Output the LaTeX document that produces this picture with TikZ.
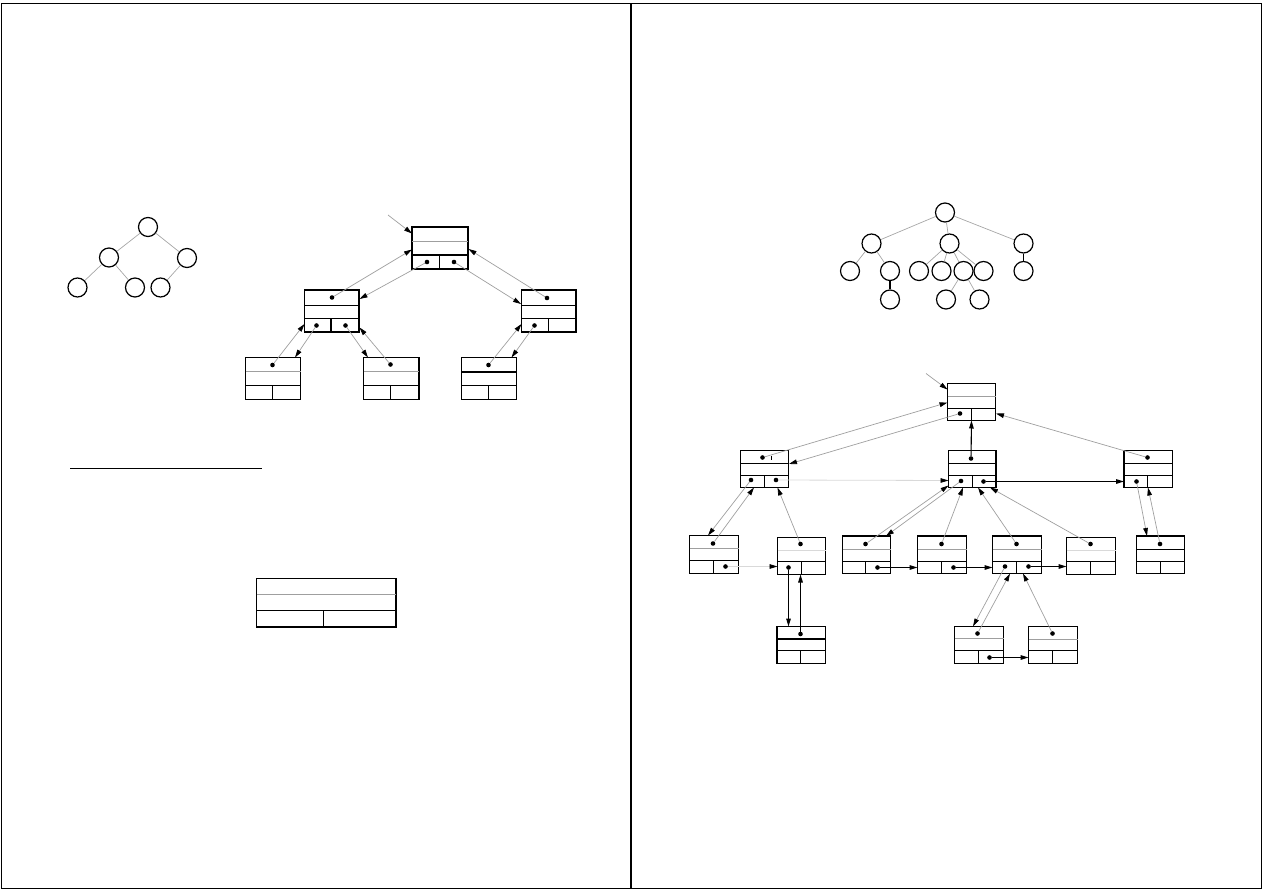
\documentclass[tikz,border=0pt]{standalone}
\usetikzlibrary{arrows.meta}
\tikzset{
  recbox/.style={draw, line width=1.15pt, inner sep=0pt, rectangle},
  inner/.style={line width=1.05pt},
  gline/.style={draw=gray!75, line width=0.7pt},
  lline/.style={draw=gray!30, line width=0.8pt},
  dot/.style={circle, fill=black, inner sep=0pt, minimum size=4.6pt},
  tnode/.style={circle, draw, line width=1.2pt, minimum size=19pt, inner sep=0pt},
  tedge/.style={draw=gray!70, line width=0.7pt},
  bedge/.style={draw=black, line width=1.2pt},
  tip/.style={-{Triangle[length=8pt,width=4.6pt,color=black]}},
  garrow/.style={tip, draw=gray!75, line width=0.7pt},
  larrow/.style={tip, draw=gray!30, line width=0.8pt},
  barrow/.style={tip, draw=black, line width=1.1pt},
}
\newcommand\mybox[9]{%
  \pgfmathsetmacro\bw{#4-#2}\pgfmathsetmacro\bh{#5-#3}%
  \node[recbox, minimum width=\bw pt, minimum height=\bh pt] (#1) at ({(#2+#4)/2},{(#3+#5)/2}) {};
  \draw[#9] (#2,#6) -- (#4,#6);
  \draw[inner] (#2,#7) -- (#4,#7);
  \draw[inner] (#8,#7) -- (#8,#5);
}
\begin{document}
\begin{tikzpicture}[x=1pt,y=-1pt]
\useasboundingbox (0,0) rectangle (1263,893);
% frame
\draw[line width=1.3pt] (1.5,3.5) rectangle (1261.5,888.5);
\draw[line width=1.3pt] (631,3.5) -- (631,888.5);

% ---------- left small binary tree
\node[tnode] (t1) at (148,227) {};
\node[tnode] (t2) at (109,257.5) {};
\node[tnode] (t3) at (187,258) {};
\node[tnode] (t4) at (77.5,287.5) {};
\node[tnode] (t5) at (135,287.5) {};
\node[tnode] (t6) at (160.5,287.5) {};
\path[tedge] (t1)--(t2) (t1)--(t3) (t2)--(t4) (t2)--(t5) (t3)--(t6);

% ---------- left linked tree
\mybox{LR}{412}{227}{468}{269}{241}{255}{439.5}{gline}
\mybox{LA}{304.5}{290}{359}{332}{305.5}{318.5}{331}{inner}
\mybox{LB}{521.5}{290}{576}{332}{305.5}{318.5}{548.5}{inner}
\mybox{LC}{245.5}{357.5}{300.5}{399.5}{371.5}{385.5}{272.5}{gline}
\mybox{LD}{363.5}{357.5}{419}{399.5}{371.5}{385.5}{390.5}{gline}
\mybox{LE}{461.5}{357.5}{516.5}{399.5}{372}{385.5}{488.5}{inner}
\node[dot] (r0a) at (427,262) {};
\node[dot] (r0b) at (454,262) {};
\node[dot] (la0) at (332,297.5) {};
\node[dot] (la1) at (316.5,325.5) {};
\node[dot] (la2) at (345.5,325.5) {};
\node[dot] (lb0) at (547,298) {};
\node[dot] (lb1) at (534.5,325.5) {};
\node[dot] (lc0) at (272.5,365) {};
\node[dot] (ld0) at (390.5,364.5) {};
\node[dot] (le0) at (488.5,365) {};
\coordinate (lin) at (388,215);
\draw[garrow] (lin) -- (412,233.5);
\draw[garrow] (r0a) -- (359.5,299);
\draw[garrow] (la0) -- (412,249.5);
\draw[garrow] (r0b) -- (521,304);
\draw[garrow] (lb0) -- (468.5,249);
\draw[garrow] (la1) -- (295,357.5);
\draw[garrow] (lc0) -- (304.5,324);
\draw[garrow] (la2) -- (368,357.5);
\draw[garrow] (ld0) -- (359.5,327.5);
\draw[garrow] (lb1) -- (511.5,357.5);
\draw[garrow] (le0) -- (521.5,324);

% ---------- left separator line and empty record
\draw[line width=1.3pt] (70,468.5) -- (261.5,468.5);
\mybox{LX}{256.5}{578.5}{396}{627}{594.5}{610.5}{323.5}{gline}

% ---------- right small general tree
\node[tnode] (s0) at (945,212.5) {};
\node[tnode] (s1) at (871.5,243.5) {};
\node[tnode] (s2) at (949.5,243.5) {};
\node[tnode] (s3) at (1023.5,243.5) {};
\node[tnode] (s4) at (850,271) {};
\node[tnode] (s5) at (890,271) {};
\node[tnode] (s6) at (919,271) {};
\node[tnode] (s7) at (941.5,271) {};
\node[tnode] (s8) at (963.5,271) {};
\node[tnode] (s9) at (983.5,271) {};
\node[tnode] (s10) at (1023.5,271) {};
\node[tnode] (s11) at (890,299.5) {};
\node[tnode] (s12) at (946,299.5) {};
\node[tnode] (s13) at (979.5,299.5) {};
\path[tedge] (s0)--(s1) (s0)--(s2) (s0)--(s3) (s1)--(s4) (s1)--(s5)
  (s2)--(s6) (s2)--(s7) (s2)--(s8) (s2)--(s9) (s8)--(s12) (s8)--(s13);
\path[bedge] (s5)--(s11) (s3)--(s10);

% ---------- right linked tree
\mybox{R}{947.5}{383.5}{995.5}{420.5}{396}{408.5}{971.5}{gline}
\mybox{A}{740.5}{450.5}{788.5}{487.5}{463.5}{475.5}{764.5}{inner}
\mybox{B}{948.5}{450.5}{996}{487.5}{463.5}{475.5}{972.5}{inner}
\mybox{C}{1124}{450.5}{1172.5}{487.5}{463.5}{475.5}{1147.5}{inner}
\mybox{D}{689.5}{535.5}{738.5}{573.5}{548.5}{560.5}{713.5}{gline}
\mybox{E}{777.5}{537.5}{825.5}{574.5}{550}{561.5}{801.5}{lline}
\mybox{F}{842.5}{536}{890.5}{573.5}{549.5}{561.5}{865.5}{gline}
\mybox{G}{917.5}{536}{966.5}{573.5}{549.5}{561.5}{941.5}{gline}
\mybox{H}{992.5}{536}{1041.5}{573.5}{549.5}{561.5}{1016.5}{gline}
\mybox{I}{1066.5}{537.5}{1115.5}{574.5}{550}{561.5}{1090.5}{lline}
\mybox{J}{1136.5}{536}{1184.5}{573.5}{549.5}{561.5}{1160.5}{inner}
\mybox{K}{777}{626.5}{825.5}{663.5}{639}{650.5}{800.5}{inner}
\mybox{L}{954.5}{626.5}{1003.5}{663.5}{638.5}{650.5}{978.5}{gline}
\mybox{M}{1028.5}{626.5}{1077.5}{663.5}{639}{650.5}{1052.5}{gline}
\draw[line width=0.6pt] (771,455.5) -- (771,459.5);

\node[dot] (r1) at (960,413.5) {};
\node[dot] (a0) at (762.5,457.5) {};
\node[dot] (a1) at (751,480) {};
\node[dot] (a2) at (776,480) {};
\node[dot] (b0) at (971,458.5) {};
\node[dot] (b1) at (961,481) {};
\node[dot] (b2) at (983.5,481.5) {};
\node[dot] (c0) at (1147.5,457.5) {};
\node[dot] (c1) at (1136.5,481.5) {};
\node[dot] (d0) at (713,543.5) {};
\node[dot] (d1) at (725.5,566.5) {};
\node[dot] (e0) at (800.5,544) {};
\node[dot] (e1) at (788.5,567.5) {};
\node[dot] (f0) at (865.5,544) {};
\node[dot] (f1) at (877.5,567.5) {};
\node[dot] (g0) at (941.5,544) {};
\node[dot] (g1) at (953.5,567.5) {};
\node[dot] (h0) at (1016.5,544) {};
\node[dot] (h1) at (1005,566.5) {};
\node[dot] (h2) at (1028.5,566.5) {};
\node[dot] (i0) at (1090.5,544) {};
\node[dot] (j0) at (1160,544) {};
\node[dot] (k0) at (800.5,634) {};
\node[dot] (l0) at (977.5,633.5) {};
\node[dot] (l1) at (989.5,657.5) {};
\node[dot] (m0) at (1052.5,633.5) {};

\coordinate (rin) at (926,373.5);
\draw[garrow] (rin) -- (947.5,389.5);
\draw[garrow] (a0) -- (947.5,402.5);
\draw[garrow] (r1) -- (789,464);
\draw[garrow] (c0) -- (996,413.5);
\draw[barrow] (b0) -- (971.5,420.5);
\draw[larrow] (a2) -- (948.5,480.5);
\draw[barrow] (b2) -- (1124,481.5);
\draw[garrow] (a1) -- (708,535.5);
\draw[garrow] (d0) -- (754,487.5);
\draw[garrow] (e0) -- (777.5,487.5);
\draw[larrow] (d1) -- (777.5,566.5);
\draw[barrow] (e1) -- (788.5,626.5);
\draw[barrow] (k0) -- (800.5,574.5);
\draw[garrow] (b1) -- (886,536);
\draw[garrow] (f0) -- (948.5,485.5);
\draw[garrow] (g0) -- (963,487.5);
\draw[garrow] (h0) -- (978,487.5);
\draw[garrow] (i0) -- (990,487.5);
\draw[barrow] (f1) -- (917.5,567.5);
\draw[barrow] (g1) -- (992.5,567.5);
\draw[barrow] (h2) -- (1066.5,566.5);
\draw[garrow] (h1) -- (973,626.5);
\draw[garrow] (l0) -- (1010,573.5);
\draw[garrow] (m0) -- (1023,573.5);
\draw[barrow] (l1) -- (1028.5,657.5);
\draw[garrow] (c1) -- (1147,536);
\draw[garrow] (j0) -- (1148,487.5);
\end{tikzpicture}
\end{document}
